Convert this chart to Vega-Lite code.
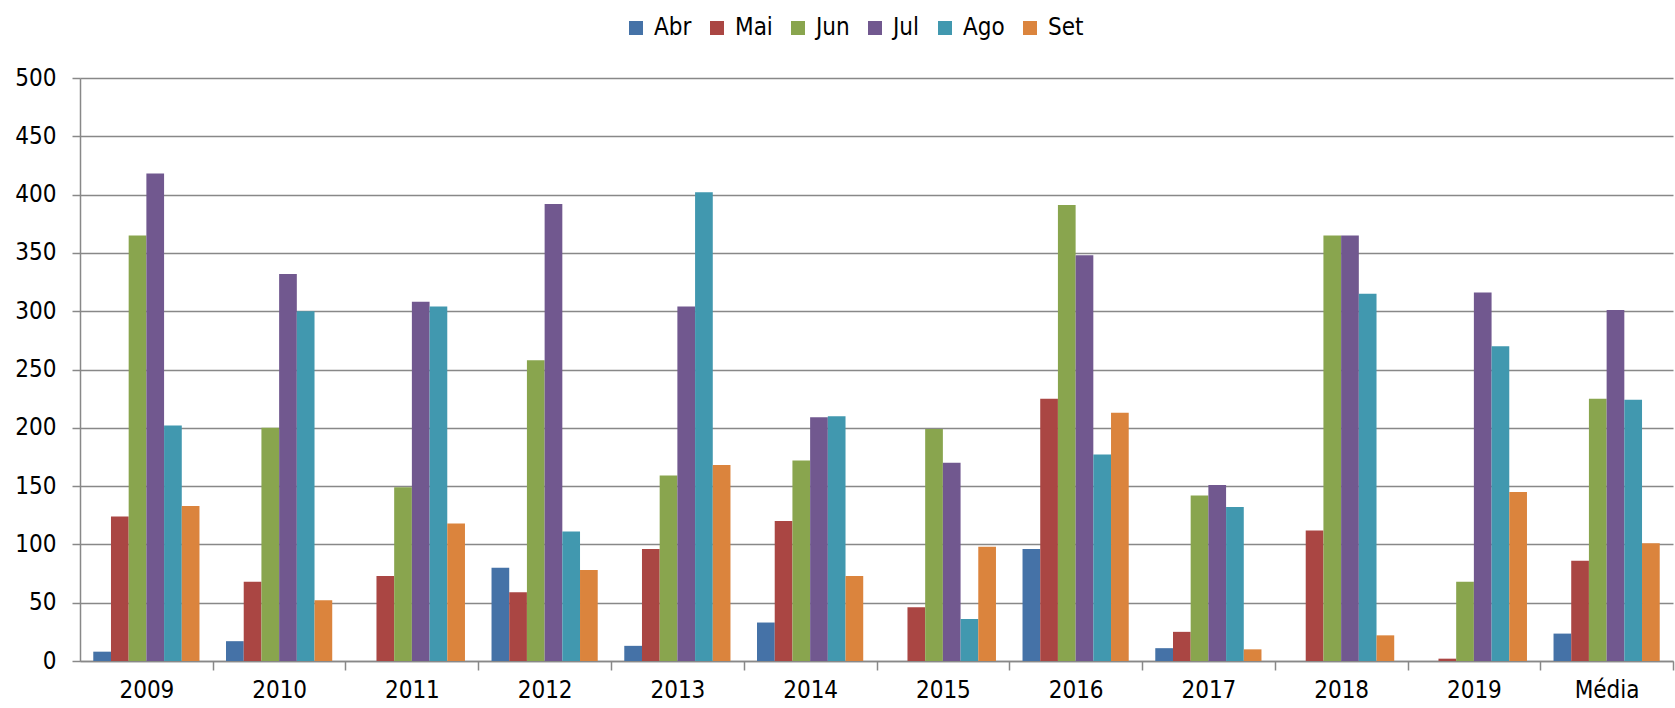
{
  "$schema": "https://vega.github.io/schema/vega-lite/v6.json",
  "width": 1593,
  "height": 583,
  "autosize": {"type": "none"},
  "padding": {"left": 80, "top": 78, "right": 2, "bottom": 47},
  "background": "white",
  "data": {
    "values": [
      {"ano": "2009", "mes": "Abr", "valor": 8},
      {"ano": "2009", "mes": "Mai", "valor": 124},
      {"ano": "2009", "mes": "Jun", "valor": 365},
      {"ano": "2009", "mes": "Jul", "valor": 418},
      {"ano": "2009", "mes": "Ago", "valor": 202},
      {"ano": "2009", "mes": "Set", "valor": 133},
      {"ano": "2010", "mes": "Abr", "valor": 17},
      {"ano": "2010", "mes": "Mai", "valor": 68},
      {"ano": "2010", "mes": "Jun", "valor": 200},
      {"ano": "2010", "mes": "Jul", "valor": 332},
      {"ano": "2010", "mes": "Ago", "valor": 300},
      {"ano": "2010", "mes": "Set", "valor": 52},
      {"ano": "2011", "mes": "Abr", "valor": 0},
      {"ano": "2011", "mes": "Mai", "valor": 73},
      {"ano": "2011", "mes": "Jun", "valor": 149},
      {"ano": "2011", "mes": "Jul", "valor": 308},
      {"ano": "2011", "mes": "Ago", "valor": 304},
      {"ano": "2011", "mes": "Set", "valor": 118},
      {"ano": "2012", "mes": "Abr", "valor": 80},
      {"ano": "2012", "mes": "Mai", "valor": 59},
      {"ano": "2012", "mes": "Jun", "valor": 258},
      {"ano": "2012", "mes": "Jul", "valor": 392},
      {"ano": "2012", "mes": "Ago", "valor": 111},
      {"ano": "2012", "mes": "Set", "valor": 78},
      {"ano": "2013", "mes": "Abr", "valor": 13},
      {"ano": "2013", "mes": "Mai", "valor": 96},
      {"ano": "2013", "mes": "Jun", "valor": 159},
      {"ano": "2013", "mes": "Jul", "valor": 304},
      {"ano": "2013", "mes": "Ago", "valor": 402},
      {"ano": "2013", "mes": "Set", "valor": 168},
      {"ano": "2014", "mes": "Abr", "valor": 33},
      {"ano": "2014", "mes": "Mai", "valor": 120},
      {"ano": "2014", "mes": "Jun", "valor": 172},
      {"ano": "2014", "mes": "Jul", "valor": 209},
      {"ano": "2014", "mes": "Ago", "valor": 210},
      {"ano": "2014", "mes": "Set", "valor": 73},
      {"ano": "2015", "mes": "Abr", "valor": 0},
      {"ano": "2015", "mes": "Mai", "valor": 46},
      {"ano": "2015", "mes": "Jun", "valor": 199},
      {"ano": "2015", "mes": "Jul", "valor": 170},
      {"ano": "2015", "mes": "Ago", "valor": 36},
      {"ano": "2015", "mes": "Set", "valor": 98},
      {"ano": "2016", "mes": "Abr", "valor": 96},
      {"ano": "2016", "mes": "Mai", "valor": 225},
      {"ano": "2016", "mes": "Jun", "valor": 391},
      {"ano": "2016", "mes": "Jul", "valor": 348},
      {"ano": "2016", "mes": "Ago", "valor": 177},
      {"ano": "2016", "mes": "Set", "valor": 213},
      {"ano": "2017", "mes": "Abr", "valor": 11},
      {"ano": "2017", "mes": "Mai", "valor": 25},
      {"ano": "2017", "mes": "Jun", "valor": 142},
      {"ano": "2017", "mes": "Jul", "valor": 151},
      {"ano": "2017", "mes": "Ago", "valor": 132},
      {"ano": "2017", "mes": "Set", "valor": 10},
      {"ano": "2018", "mes": "Abr", "valor": 0},
      {"ano": "2018", "mes": "Mai", "valor": 112},
      {"ano": "2018", "mes": "Jun", "valor": 365},
      {"ano": "2018", "mes": "Jul", "valor": 365},
      {"ano": "2018", "mes": "Ago", "valor": 315},
      {"ano": "2018", "mes": "Set", "valor": 22},
      {"ano": "2019", "mes": "Abr", "valor": 0},
      {"ano": "2019", "mes": "Mai", "valor": 2},
      {"ano": "2019", "mes": "Jun", "valor": 68},
      {"ano": "2019", "mes": "Jul", "valor": 316},
      {"ano": "2019", "mes": "Ago", "valor": 270},
      {"ano": "2019", "mes": "Set", "valor": 145},
      {"ano": "Média", "mes": "Abr", "valor": 23.5},
      {"ano": "Média", "mes": "Mai", "valor": 86},
      {"ano": "Média", "mes": "Jun", "valor": 225},
      {"ano": "Média", "mes": "Jul", "valor": 301},
      {"ano": "Média", "mes": "Ago", "valor": 224},
      {"ano": "Média", "mes": "Set", "valor": 101}
    ]
  },
  "mark": {"type": "bar"},
  "encoding": {
    "x": {
      "field": "ano",
      "type": "nominal",
      "sort": null,
      "scale": {"paddingInner": 0.2, "paddingOuter": 0.1},
      "axis": {
        "title": null,
        "labelAngle": 0,
        "bandPosition": 1,
        "tickOffset": 13.275,
        "labelOffset": -13.275,
        "tickSize": 9,
        "tickColor": "#888888",
        "tickWidth": 1.5,
        "domainColor": "#888888",
        "domainWidth": 1.5,
        "labelPadding": 8,
        "grid": false
      }
    },
    "xOffset": {
      "field": "mes",
      "type": "nominal",
      "sort": ["Abr", "Mai", "Jun", "Jul", "Ago", "Set"],
      "scale": {"paddingInner": 0, "paddingOuter": 0}
    },
    "y": {
      "field": "valor",
      "type": "quantitative",
      "scale": {"domain": [0, 500], "nice": false},
      "axis": {
        "title": null,
        "values": [0, 50, 100, 150, 200, 250, 300, 350, 400, 450, 500],
        "tickSize": 8,
        "labelPadding": 16,
        "gridColor": "#888888",
        "gridWidth": 1.5,
        "domainColor": "#888888",
        "domainWidth": 1.5,
        "tickColor": "#888888",
        "tickWidth": 1.5
      }
    },
    "color": {
      "field": "mes",
      "type": "nominal",
      "sort": ["Abr", "Mai", "Jun", "Jul", "Ago", "Set"],
      "scale": {
        "domain": ["Abr", "Mai", "Jun", "Jul", "Ago", "Set"],
        "range": ["#4572A7", "#AA4643", "#89A54E", "#71588F", "#4198AF", "#DB843D"]
      },
      "legend": {
        "title": null,
        "orient": "none",
        "direction": "horizontal",
        "legendX": 544,
        "legendY": -62,
        "padding": 0,
        "symbolType": "square",
        "symbolSize": 196,
        "symbolStrokeWidth": 0,
        "symbolOpacity": 1,
        "labelFontSize": 24,
        "labelFont": "DejaVu Sans Condensed",
        "labelColor": "#000000",
        "labelOffset": 6,
        "columnPadding": 13
      }
    }
  },
  "config": {
    "view": {"stroke": null},
    "font": "DejaVu Sans Condensed",
    "axis": {"labelFont": "DejaVu Sans Condensed", "labelFontSize": 24, "labelColor": "#000000"}
  }
}
